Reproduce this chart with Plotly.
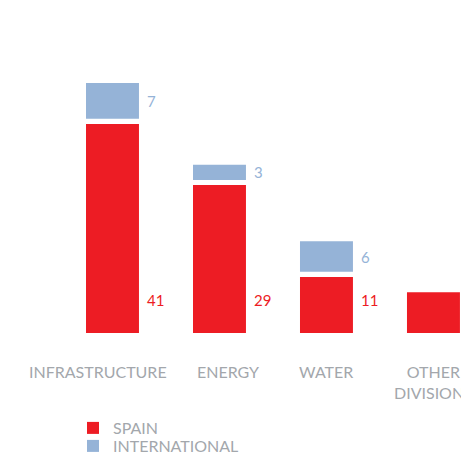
import plotly.graph_objects as go

categories = ["INFRASTRUCTURE", "ENERGY", "WATER", "OTHER<br>DIVISIONS"]
spain = [41, 29, 11, 8]
international = [7, 3, 6, 0]
series_names = ["SPAIN", "INTERNATIONAL"]

RED = "#ED1C24"
BLUE = "#95B3D7"
GRAY = "#A3A7AC"
FONT = "Lato"
GAP = 1.0        # visual gap (data units) between stacked segments
LABEL_Y = 6.4    # vertical position of the Spain value labels
CAT_SHIFT = [-14, 9, 0, 0]  # horizontal nudges of the category labels (px)

fig = go.Figure()
fig.add_bar(x=categories, y=spain, name=series_names[0], marker_color=RED,
            marker_line_width=0, hoverinfo="skip", legend="legend")
fig.add_bar(x=categories, y=international, name=series_names[1],
            base=[s + GAP for s in spain], marker_color=BLUE,
            marker_line_width=0, hoverinfo="skip", legend="legend2")

ann = []
for c, s, i, dx in zip(categories, spain, international, CAT_SHIFT):
    ann.append(dict(x=c, y=LABEL_Y, text=str(s), showarrow=False, xanchor="left",
                    yanchor="middle", xshift=33, font=dict(color=RED, size=15, family=FONT)))
    if i > 0:
        ann.append(dict(x=c, y=s + GAP + i / 2, text=str(i), showarrow=False, xanchor="left",
                        yanchor="middle", xshift=33, font=dict(color=BLUE, size=15, family=FONT)))
    ann.append(dict(x=c, xref="x", y=0, yref="paper", text=c, showarrow=False,
                    xanchor="center", yanchor="top", xshift=dx, yshift=-27,
                    font=dict(color=GRAY, size=16, family=FONT)))

leg_common = dict(xref="container", yref="container", xanchor="left", yanchor="middle",
                  font=dict(size=16, color=GRAY, family=FONT), itemclick=False,
                  bgcolor="rgba(0,0,0,0)")

fig.update_layout(
    width=469, height=455,
    margin=dict(l=51, r=0, t=70, b=130, autoexpand=False),
    barmode="overlay", bargap=0.505,
    plot_bgcolor="white", paper_bgcolor="white",
    font=dict(family=FONT, color=GRAY, size=16),
    showlegend=True,
    legend=dict(x=65 / 469, y=1 - 420 / 455, **leg_common),
    legend2=dict(x=65 / 469, y=1 - 438 / 455, **leg_common),
    annotations=ann,
)
fig.update_xaxes(range=[-0.5, 3.407], showline=False, showgrid=False, zeroline=False,
                 showticklabels=False, ticks="")
fig.update_yaxes(range=[0, 50], visible=False, showgrid=False, zeroline=False)

fig.write_html("out.html")
